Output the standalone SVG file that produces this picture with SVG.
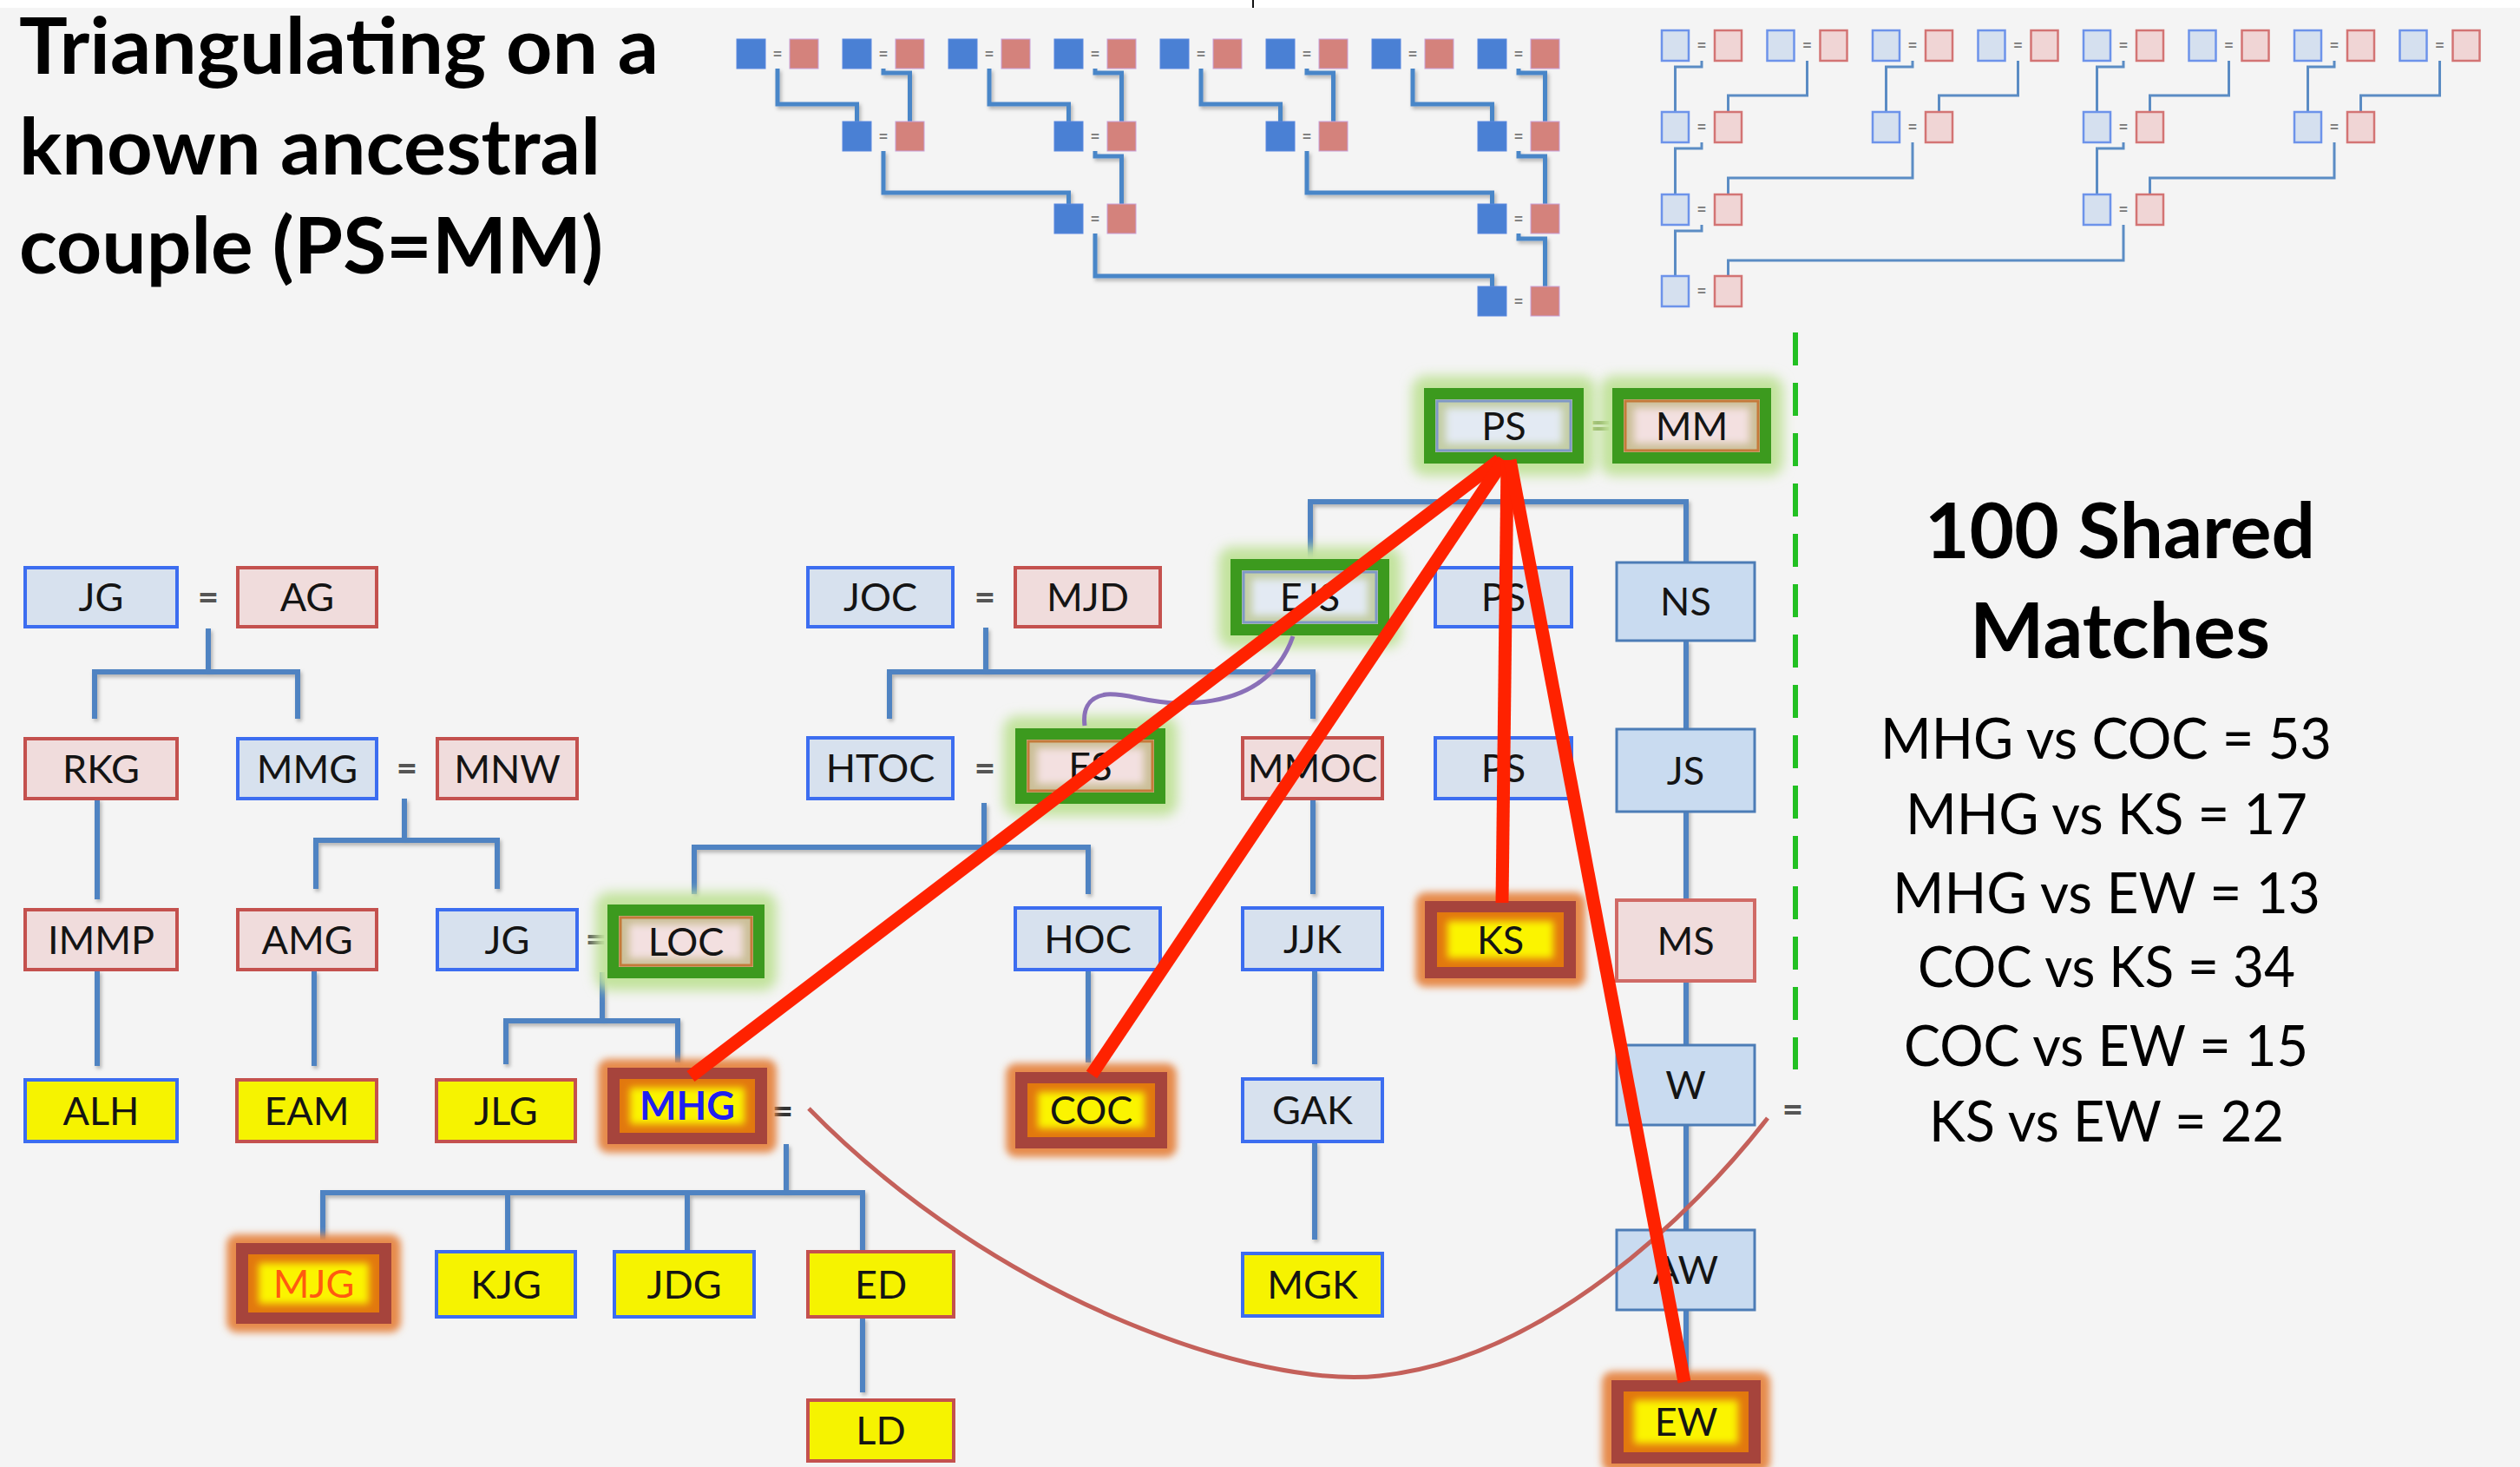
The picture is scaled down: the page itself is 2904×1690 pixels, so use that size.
<svg xmlns="http://www.w3.org/2000/svg" xmlns:xlink="http://www.w3.org/1999/xlink" width="2904" height="1690" viewBox="0 0 2904 1690">
<style>
.lbl{font-family:Lato,"Open Sans","Liberation Sans",sans-serif;font-size:45px;text-anchor:middle;fill:#141414}
.eq{font-family:Lato,"Liberation Sans",sans-serif;font-size:42px;font-weight:bold;text-anchor:middle;fill:#555}
.eqs{font-family:"Liberation Sans",sans-serif;font-size:17px;font-weight:bold;text-anchor:middle;fill:#777}
.bb{fill:#d7e1ee;stroke:#3c6df0;stroke-width:4}
.pb{fill:#f0dcdc;stroke:#c4514e;stroke-width:4}
.yb{fill:#f6f300;stroke:#3c6df0;stroke-width:4}
.yr{fill:#f6f300;stroke:#c4514e;stroke-width:4}
.sb{fill:#c9dbf0;stroke:#4c7cb6;stroke-width:3}
.tree{fill:none;stroke:#4f83c2;stroke-width:6}
.mtree{fill:none;stroke:#4a86c8;stroke-width:5}
.ltree{fill:none;stroke:#5b8cc4;stroke-width:3}
.mb{fill:#4a80d4;stroke:#5a88e0;stroke-width:1}
.mr{fill:#d4827c;stroke:#c8a0d8;stroke-width:1}
.lb{fill:#d5e0ef;stroke:#6d93ea;stroke-width:2.5}
.lr{fill:#f0d5d5;stroke:#d37474;stroke-width:2.5}
.red{fill:none;stroke:#ff2200;stroke-width:15}
.gglow{fill:#c2e39c}
.gband{fill:#3c9a1e}
.oglow{fill:#e68a4c}
.oband{fill:#a6443c}
.oin{fill:#e2780e}
.oyel{fill:#fbf400}
.title{font-family:Lato,"Open Sans","Liberation Sans",sans-serif;font-weight:bold;fill:#000}
.stat{font-family:Lato,"Open Sans","Liberation Sans",sans-serif;font-size:66px;text-anchor:middle;fill:#000}
</style>
<defs>
<filter id="gl" x="-30%" y="-50%" width="160%" height="200%"><feGaussianBlur stdDeviation="7"/></filter>
<filter id="b4" x="-30%" y="-50%" width="160%" height="200%"><feGaussianBlur stdDeviation="4"/></filter>
<filter id="b3" x="-30%" y="-50%" width="160%" height="200%"><feGaussianBlur stdDeviation="4"/></filter>
<filter id="sh" filterUnits="userSpaceOnUse" x="0" y="0" width="2904" height="1690"><feDropShadow dx="2" dy="3" stdDeviation="2" flood-color="#000" flood-opacity="0.28"/></filter>
<g id="pd"><rect class="mb" width="33" height="34"/><text class="eqs" x="47" y="23">=</text><rect class="mr" x="61" width="33" height="34"/></g>
<g id="pl"><rect class="lb" width="31" height="35"/><text class="eqs" x="46" y="23">=</text><rect class="lr" x="61" width="31" height="35"/></g>
</defs>

<rect x="0" y="0" width="2904" height="1690" fill="#f4f4f4"/>
<rect x="0" y="0" width="2904" height="9" fill="#ffffff"/>
<line x1="1444" y1="0" x2="1444" y2="9" stroke="#111" stroke-width="2"/>

<g id="title">
<text class="title" x="22" y="85" font-size="90" textLength="737" lengthAdjust="spacingAndGlyphs">Triangulating on a</text>
<text class="title" x="22" y="201" font-size="90" textLength="670" lengthAdjust="spacingAndGlyphs">known ancestral</text>
<text class="title" x="22" y="315" font-size="90" textLength="673" lengthAdjust="spacingAndGlyphs">couple (PS=MM)</text>
</g>

<!-- dark mini tree -->
<g id="mini-tree-dark">
<g class="mtree" filter="url(#sh)">
<path d="M896 79V120H987.5V140M1018 79V84H1048.5V140M1140 79V120H1231.5V140M1262 79V84H1292.5V140M1384 79V120H1475.5V140M1506 79V84H1536.5V140M1628 79V120H1719.5V140M1750 79V84H1780.5V140"/>
<path d="M1018 174V222H1231.5V235M1262 174V180H1292.5V235M1506 174V222H1719.5V235M1750 174V180H1780.5V235"/>
<path d="M1262 269V318H1719.5V330M1750 269V275H1780.5V330"/>
</g>
<use id="md1" href="#pd" x="849" y="45"/><use id="md2" href="#pd" x="971" y="45"/><use id="md3" href="#pd" x="1093" y="45"/><use id="md4" href="#pd" x="1215" y="45"/>
<use id="md5" href="#pd" x="1337" y="45"/><use id="md6" href="#pd" x="1459" y="45"/><use id="md7" href="#pd" x="1581" y="45"/><use id="md8" href="#pd" x="1703" y="45"/>
<use id="md9" href="#pd" x="971" y="140"/><use id="md10" href="#pd" x="1215" y="140"/><use id="md11" href="#pd" x="1459" y="140"/><use id="md12" href="#pd" x="1703" y="140"/>
<use id="md13" href="#pd" x="1215" y="235"/><use id="md14" href="#pd" x="1703" y="235"/>
<use id="md15" href="#pd" x="1703" y="330"/>
</g>

<!-- light mini tree -->
<g id="mini-tree-light">
<g class="ltree">
<path d="M1961 70V77H1930.5V129M2082.5 70V110H1991.5V129M2204 70V77H2173.5V129M2325.5 70V110H2234.5V129M2447 70V77H2416.5V129M2568.5 70V110H2477.5V129M2690 70V77H2659.5V129M2811.5 70V110H2720.5V129"/>
<path d="M1961 164V171H1930.5V224M2204 164V205H1991.5V224M2447 164V171H2416.5V224M2690 164V205H2477.5V224"/>
<path d="M1961 259V266H1930.5V318M2447 259V300H1991.5V318"/>
</g>
<use id="ml1" href="#pl" x="1915" y="35"/><use id="ml2" href="#pl" x="2036.5" y="35"/><use id="ml3" href="#pl" x="2158" y="35"/><use id="ml4" href="#pl" x="2279.5" y="35"/>
<use id="ml5" href="#pl" x="2401" y="35"/><use id="ml6" href="#pl" x="2522.5" y="35"/><use id="ml7" href="#pl" x="2644" y="35"/><use id="ml8" href="#pl" x="2765.5" y="35"/>
<use id="ml9" href="#pl" x="1915" y="129"/><use id="ml10" href="#pl" x="2158" y="129"/><use id="ml11" href="#pl" x="2401" y="129"/><use id="ml12" href="#pl" x="2644" y="129"/>
<use id="ml13" href="#pl" x="1915" y="224"/><use id="ml14" href="#pl" x="2401" y="224"/>
<use id="ml15" href="#pl" x="1915" y="318"/>
</g>

<line id="divider" x1="2069" y1="383" x2="2069" y2="1232" stroke="#22c022" stroke-width="6" stroke-dasharray="38 20"/>

<!-- family tree connectors -->
<g id="connectors" class="tree" filter="url(#sh)">
<path d="M240 724V774M109 828V774H343V828"/>
<path d="M112 920V1036M112 1118V1228"/>
<path d="M466 920V968M364 1024V968H573V1024"/>
<path d="M362 1118V1228"/>
<path d="M694 1120V1176M583 1226V1176H781V1224"/>
<path d="M906 1318V1374M372 1428V1374H994V1440M585 1374V1440M792 1374V1440"/>
<path d="M994 1518V1604"/>
<path d="M1136 723V774M1025 828V774H1513V828"/>
<path d="M1134 925V976M800 1030V976H1254V1030"/>
<path d="M1254 1117V1224"/>
<path d="M1513 920V1030M1515 1117V1226M1515 1315V1428"/>
<path d="M1510 645V578H1943V648M1943 738V1590"/>
</g>

<!-- equals signs -->
<g id="equals">
<text class="eq" x="240" y="703">=</text>
<text class="eq" x="469" y="900">=</text>
<text class="eq" x="687" y="1097">=</text>
<text class="eq" x="1135" y="703">=</text>
<text class="eq" x="1135" y="900">=</text>
<text class="eq" x="1845" y="505" style="fill:#6e8c3c">=</text>
<text class="eq" x="902" y="1295" style="fill:#333">=</text>
<text class="eq" x="2066" y="1293">=</text>
</g>

<!-- plain nodes -->
<g id="n-JG1"><rect class="bb" x="29" y="654" width="175" height="68"/><text class="lbl" x="116.5" y="704">JG</text></g>
<g id="n-AG"><rect class="pb" x="274" y="654" width="160" height="68"/><text class="lbl" x="354" y="704">AG</text></g>
<g id="n-RKG"><rect class="pb" x="29" y="851" width="175" height="69"/><text class="lbl" x="116.5" y="901.5">RKG</text></g>
<g id="n-MMG"><rect class="bb" x="274" y="851" width="160" height="69"/><text class="lbl" x="354" y="901.5">MMG</text></g>
<g id="n-MNW"><rect class="pb" x="504" y="851" width="161" height="69"/><text class="lbl" x="584.5" y="901.5">MNW</text></g>
<g id="n-IMMP"><rect class="pb" x="29" y="1048" width="175" height="69"/><text class="lbl" x="116.5" y="1098.5">IMMP</text></g>
<g id="n-AMG"><rect class="pb" x="274" y="1048" width="160" height="69"/><text class="lbl" x="354" y="1098.5">AMG</text></g>
<g id="n-JG2"><rect class="bb" x="504" y="1048" width="161" height="69"/><text class="lbl" x="584.5" y="1098.5">JG</text></g>
<g id="n-ALH"><rect class="yb" x="29" y="1244" width="175" height="71"/><text class="lbl" x="116.5" y="1295.5">ALH</text></g>
<g id="n-EAM"><rect class="yr" x="273" y="1244" width="161" height="71"/><text class="lbl" x="353.5" y="1295.5">EAM</text></g>
<g id="n-JLG"><rect class="yr" x="503" y="1244" width="160" height="71"/><text class="lbl" x="583" y="1295.5">JLG</text></g>
<g id="n-KJG"><rect class="yb" x="503" y="1442" width="160" height="75"/><text class="lbl" x="583" y="1495.5">KJG</text></g>
<g id="n-JDG"><rect class="yb" x="708" y="1442" width="161" height="75"/><text class="lbl" x="788.5" y="1495.5">JDG</text></g>
<g id="n-ED"><rect class="yr" x="931" y="1442" width="168" height="75"/><text class="lbl" x="1015" y="1495.5">ED</text></g>
<g id="n-LD"><rect class="yr" x="931" y="1613" width="168" height="70"/><text class="lbl" x="1015" y="1664">LD</text></g>
<g id="n-JOC"><rect class="bb" x="931" y="654" width="167" height="68"/><text class="lbl" x="1014.5" y="704">JOC</text></g>
<g id="n-MJD"><rect class="pb" x="1170" y="654" width="167" height="68"/><text class="lbl" x="1253.5" y="704">MJD</text></g>
<g id="n-PS2"><rect class="bb" x="1654" y="654" width="157" height="68"/><text class="lbl" x="1732.5" y="704">PS</text></g>
<g id="n-NS"><rect class="sb" x="1863" y="648" width="159" height="90"/><text class="lbl" x="1942.5" y="709">NS</text></g>
<g id="n-HTOC"><rect class="bb" x="931" y="850" width="167" height="70"/><text class="lbl" x="1014.5" y="901">HTOC</text></g>
<g id="n-MMOC"><rect class="pb" x="1432" y="850" width="161" height="70"/><text class="lbl" x="1512.5" y="901">MMOC</text></g>
<g id="n-PS3"><rect class="bb" x="1654" y="850" width="157" height="70"/><text class="lbl" x="1732.5" y="901">PS</text></g>
<g id="n-JS"><rect class="sb" x="1863" y="840" width="159" height="95"/><text class="lbl" x="1942.5" y="903.5">JS</text></g>
<g id="n-HOC"><rect class="bb" x="1170" y="1046" width="167" height="71"/><text class="lbl" x="1253.5" y="1097.5">HOC</text></g>
<g id="n-JJK"><rect class="bb" x="1432" y="1046" width="161" height="71"/><text class="lbl" x="1512.5" y="1097.5">JJK</text></g>
<g id="n-MS"><rect class="pb" x="1863" y="1037" width="159" height="93" style="stroke:#d06a66"/><text class="lbl" x="1942.5" y="1099.5">MS</text></g>
<g id="n-GAK"><rect class="bb" x="1432" y="1243" width="161" height="72"/><text class="lbl" x="1512.5" y="1295">GAK</text></g>
<g id="n-W"><rect class="sb" x="1863" y="1204" width="159" height="92"/><text class="lbl" x="1942.5" y="1266">W</text></g>
<g id="n-MGK"><rect class="yb" x="1432" y="1444" width="161" height="72"/><text class="lbl" x="1512.5" y="1496">MGK</text></g>
<g id="n-AW"><rect class="sb" x="1863" y="1417" width="159" height="92"/><text class="lbl" x="1942.5" y="1479">AW</text></g>

<!-- green highlighted nodes (ancestors) -->
<g id="n-PS">
<rect class="gglow" x="1627" y="433" width="212" height="115" rx="16" filter="url(#gl)"/>
<rect class="gband" x="1641" y="447" width="184" height="87"/>
<rect x="1654" y="460" width="158" height="61" fill="#c3cda5"/>
<rect x="1666" y="470" width="134" height="41" fill="#e3eaf3" filter="url(#b4)"/>
<rect x="1656" y="462" width="154" height="57" fill="none" stroke="#7f98c6" stroke-width="3"/>
<text class="lbl" x="1733" y="506.5">PS</text>
</g>
<g id="n-MM">
<rect class="gglow" x="1844" y="433" width="211" height="115" rx="16" filter="url(#gl)"/>
<rect class="gband" x="1858" y="447" width="183" height="87"/>
<rect x="1871" y="460" width="157" height="61" fill="#cbbf98"/>
<rect x="1883" y="470" width="133" height="41" fill="#f3e0e0" filter="url(#b4)"/>
<rect x="1873" y="462" width="153" height="57" fill="none" stroke="#c47a3a" stroke-width="3"/>
<text class="lbl" x="1949.5" y="506.5">MM</text>
</g>
<g id="n-EJS">
<rect class="gglow" x="1404" y="630" width="211" height="116" rx="16" filter="url(#gl)"/>
<rect class="gband" x="1418" y="644" width="183" height="88"/>
<rect x="1431" y="657" width="157" height="62" fill="#c3cda5"/>
<rect x="1443" y="667" width="133" height="42" fill="#e3eaf3" filter="url(#b4)"/>
<rect x="1433" y="659" width="153" height="58" fill="none" stroke="#7f98c6" stroke-width="3"/>
<text class="lbl" x="1509.5" y="704">EJS</text>
</g>
<g id="n-ES">
<rect class="gglow" x="1156" y="825" width="201" height="115" rx="16" filter="url(#gl)"/>
<rect class="gband" x="1170" y="839" width="173" height="87"/>
<rect x="1183" y="852" width="147" height="61" fill="#cbbf98"/>
<rect x="1195" y="862" width="123" height="41" fill="#f3e0e0" filter="url(#b4)"/>
<rect x="1185" y="854" width="143" height="57" fill="none" stroke="#c47a3a" stroke-width="3"/>
<text class="lbl" x="1256.5" y="898.5">ES</text>
</g>
<g id="n-LOC">
<rect class="gglow" x="686" y="1028" width="209" height="113" rx="16" filter="url(#gl)"/>
<rect class="gband" x="700" y="1042" width="181" height="85"/>
<rect x="713" y="1055" width="155" height="59" fill="#cbbf98"/>
<rect x="725" y="1065" width="131" height="39" fill="#f3e0e0" filter="url(#b4)"/>
<rect x="715" y="1057" width="151" height="55" fill="none" stroke="#c47a3a" stroke-width="3"/>
<text class="lbl" x="790.5" y="1100.5">LOC</text>
</g>

<!-- orange highlighted nodes (matches) -->
<g id="n-MHG">
<rect class="oglow" x="689" y="1220" width="206" height="108" rx="12" filter="url(#b4)"/>
<rect class="oband" x="700" y="1230" width="184" height="88"/>
<rect class="oin" x="714" y="1243" width="156" height="62"/>
<rect class="oyel" x="726" y="1253" width="132" height="42" filter="url(#b3)"/>
<text class="lbl" x="792" y="1290" style="fill:#1f1ff0;font-weight:bold">MHG</text>
</g>
<g id="n-COC">
<rect class="oglow" x="1159" y="1225" width="197" height="108" rx="12" filter="url(#b4)"/>
<rect class="oband" x="1170" y="1235" width="175" height="88"/>
<rect class="oin" x="1184" y="1248" width="147" height="62"/>
<rect class="oyel" x="1196" y="1258" width="123" height="42" filter="url(#b3)"/>
<text class="lbl" x="1257.5" y="1295">COC</text>
</g>
<g id="n-KS">
<rect class="oglow" x="1631" y="1028" width="196" height="109" rx="12" filter="url(#b4)"/>
<rect class="oband" x="1642" y="1038" width="174" height="89"/>
<rect class="oin" x="1656" y="1051" width="146" height="63"/>
<rect class="oyel" x="1668" y="1061" width="122" height="43" filter="url(#b3)"/>
<text class="lbl" x="1729" y="1098.5">KS</text>
</g>
<g id="n-EW">
<rect class="oglow" x="1846" y="1580" width="194" height="116" rx="12" filter="url(#b4)"/>
<rect class="oband" x="1857" y="1590" width="172" height="96"/>
<rect class="oin" x="1871" y="1603" width="144" height="70"/>
<rect class="oyel" x="1883" y="1613" width="120" height="50" filter="url(#b3)"/>
<text class="lbl" x="1943" y="1654">EW</text>
</g>
<g id="n-MJG">
<rect class="oglow" x="261" y="1422" width="201" height="113" rx="12" filter="url(#b4)"/>
<rect class="oband" x="272" y="1432" width="179" height="93"/>
<rect class="oin" x="286" y="1445" width="151" height="67"/>
<rect class="oyel" x="298" y="1455" width="127" height="47" filter="url(#b3)"/>
<text class="lbl" x="361.5" y="1494.5" style="fill:#ff5a10">MJG</text>
</g>

<!-- triangulation overlays -->
<g id="overlay-connectors">
<path d="M1490 733C1470 790 1420 810 1360 810C1320 810 1300 798 1275 800C1252 803 1248 820 1250 836" fill="none" stroke="#8a70b8" stroke-width="5"/>
<path d="M932 1277C1150 1500 1450 1600 1590 1585C1780 1565 1950 1400 2037 1288" fill="none" stroke="#c4605a" stroke-width="5"/>
<path class="red" d="M1728 530L796 1240"/>
<path class="red" d="M1733 530L1258 1238"/>
<path class="red" d="M1737 530L1731 1040"/>
<path class="red" d="M1740 530L1941 1592"/>
</g>

<g id="stats">
<text class="title" x="2443" y="643" font-size="88" text-anchor="middle" textLength="450" lengthAdjust="spacingAndGlyphs">100 Shared</text>
<text class="title" x="2443" y="758" font-size="88" text-anchor="middle" textLength="346" lengthAdjust="spacingAndGlyphs">Matches</text>
<text class="stat" x="2427" y="874" textLength="520" lengthAdjust="spacingAndGlyphs">MHG vs COC = 53</text>
<text class="stat" x="2427.5" y="961" textLength="463" lengthAdjust="spacingAndGlyphs">MHG vs KS = 17</text>
<text class="stat" x="2427.5" y="1052" textLength="493" lengthAdjust="spacingAndGlyphs">MHG vs EW = 13</text>
<text class="stat" x="2427.5" y="1137" textLength="435" lengthAdjust="spacingAndGlyphs">COC vs KS = 34</text>
<text class="stat" x="2427" y="1228" textLength="466" lengthAdjust="spacingAndGlyphs">COC vs EW = 15</text>
<text class="stat" x="2427.5" y="1315" textLength="409" lengthAdjust="spacingAndGlyphs">KS vs EW = 22</text>
</g>
</svg>
